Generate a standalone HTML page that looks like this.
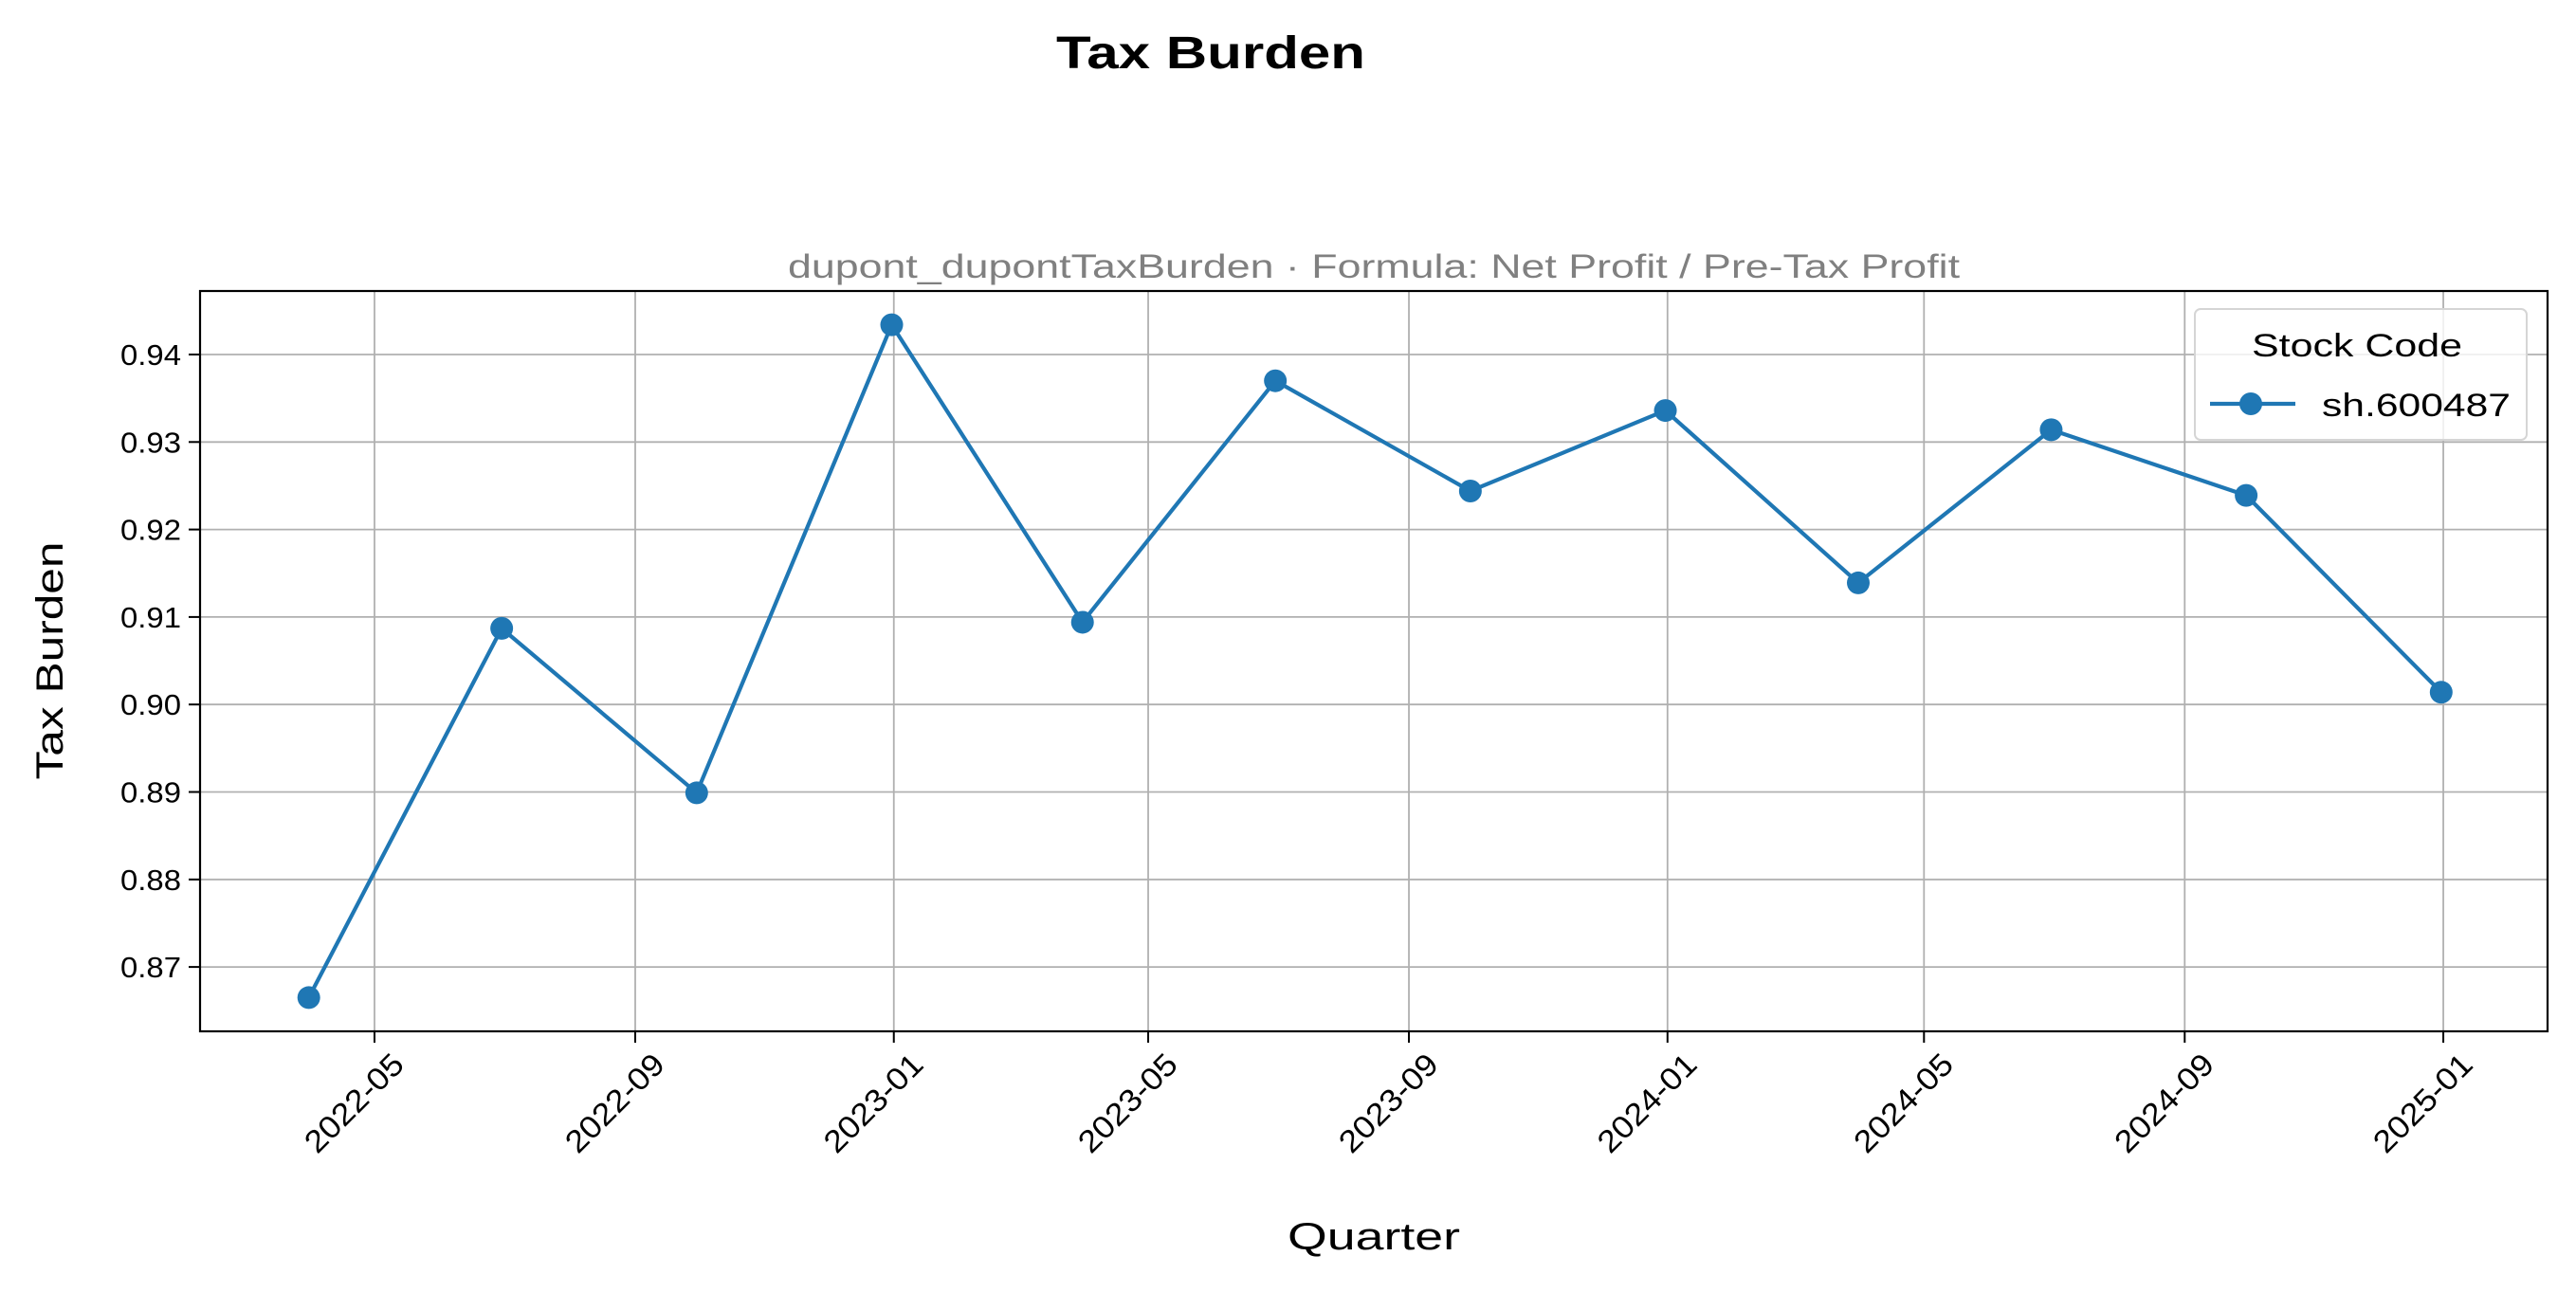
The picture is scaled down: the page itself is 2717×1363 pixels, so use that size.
<!DOCTYPE html>
<html><head><meta charset="utf-8"><style>
body{margin:0;background:#fff}
svg{display:block;font-family:"Liberation Sans","Noto Sans CJK SC",sans-serif}
</style></head><body>
<svg id="chart" width="2717" height="1363" viewBox="0 0 2717 1363" xmlns="http://www.w3.org/2000/svg">
<rect width="2717" height="1363" fill="#fff"/>
<text x="1277" y="72" font-size="48" font-weight="bold" text-anchor="middle" textLength="326" lengthAdjust="spacingAndGlyphs">Tax Burden</text>
<text x="1449" y="293" font-size="35" fill="#808080" text-anchor="middle" textLength="1236" lengthAdjust="spacingAndGlyphs">dupont_dupontTaxBurden · Formula: Net Profit / Pre-Tax Profit</text>
<g id="grid"></g>
<g id="ticks"></g>
<g id="series"></g>
<rect x="211" y="307" width="2476" height="781" fill="none" stroke="#000" stroke-width="2.2"/>
<text transform="translate(66,697) rotate(-90)" font-size="40" text-anchor="middle" textLength="251" lengthAdjust="spacingAndGlyphs">Tax Burden</text>
<text x="1449" y="1318" font-size="40" text-anchor="middle" textLength="182" lengthAdjust="spacingAndGlyphs">Quarter</text>
<g>
<rect x="2315" y="326" width="350" height="138" rx="6" fill="#fff" fill-opacity="0.8" stroke="#d5d5d5" stroke-width="2"/>
<text x="2486" y="376" font-size="34" text-anchor="middle" textLength="222" lengthAdjust="spacingAndGlyphs">Stock Code</text>
<line x1="2331" y1="426" x2="2421" y2="426" stroke="#1f77b4" stroke-width="4.2"/>
<circle cx="2374" cy="426" r="12" fill="#1f77b4"/>
<text x="2449" y="439" font-size="34" textLength="199" lengthAdjust="spacingAndGlyphs">sh.600487</text>
</g>
</svg>
<script>
const dates = ["2022-03-31","2022-06-30","2022-09-30","2022-12-31","2023-03-31","2023-06-30","2023-09-30","2023-12-31","2024-03-31","2024-06-30","2024-09-30","2024-12-31"];
const values = [0.8665,0.9087,0.8899,0.9434,0.9094,0.9370,0.9244,0.9336,0.9139,0.9314,0.9239,0.9014];
const xTicks = ["2022-05","2022-09","2023-01","2023-05","2023-09","2024-01","2024-05","2024-09","2025-01"];
const yTicks = [0.87,0.88,0.89,0.90,0.91,0.92,0.93,0.94];

const NS="http://www.w3.org/2000/svg";
const L=211,R=2687,T=307,B=1088;
const d0=Date.UTC(2022,4,1), pxPerDay=2.2357;
function X(s){const p=s.split('-').map(Number);const t=Date.UTC(p[0],p[1]-1,p[2]||1);return 395+(t-d0)/86400000*pxPerDay;}
function Y(v){return 374+(0.94-v)*9230;}
function mk(tag,attrs,parent){const e=document.createElementNS(NS,tag);for(const k in attrs)e.setAttribute(k,attrs[k]);parent.appendChild(e);return e;}
const grid=document.getElementById('grid'),ticks=document.getElementById('ticks'),series=document.getElementById('series');
yTicks.forEach(v=>{const y=Y(v);
 const g=mk('line',{x1:L,x2:R,y1:y,y2:y,stroke:'#b0b0b0','stroke-width':1.8},grid);
 
 
 const t=mk('line',{x1:L-12,x2:L,y1:y,y2:y,stroke:'#000','stroke-width':2},ticks);
 
 
 const tx=mk('text',{x:L-20,y:y+11,'font-size':31,'text-anchor':'end',textLength:64,lengthAdjust:'spacingAndGlyphs'},ticks);
 tx.textContent=v.toFixed(2);
 
 
});
xTicks.forEach(s=>{const x=X(s);
 const g=mk('line',{x1:x,x2:x,y1:T,y2:B,stroke:'#b0b0b0','stroke-width':1.8},grid);
 
 
 const t=mk('line',{x1:x,x2:x,y1:B,y2:B+12,stroke:'#000','stroke-width':2},ticks);
 
 
 const tx=mk('text',{transform:`translate(${x+16},${B+20}) rotate(-45)`,'font-size':33,'text-anchor':'end','dominant-baseline':'hanging',textLength:132,lengthAdjust:'spacingAndGlyphs'},ticks);
 tx.textContent=s;
 
 
});
const pts=dates.map((d,i)=>[X(d),Y(values[i])]);
const line=mk('polyline',{points:pts.map(p=>p.join(',')).join(' '),fill:'none',stroke:'#1f77b4','stroke-width':4.2,'stroke-linejoin':'round'},series);


pts.forEach(p=>{const c=mk('circle',{cx:p[0],cy:p[1],r:12,fill:'#1f77b4'},series);
 
 
});
</script>
</body></html>
